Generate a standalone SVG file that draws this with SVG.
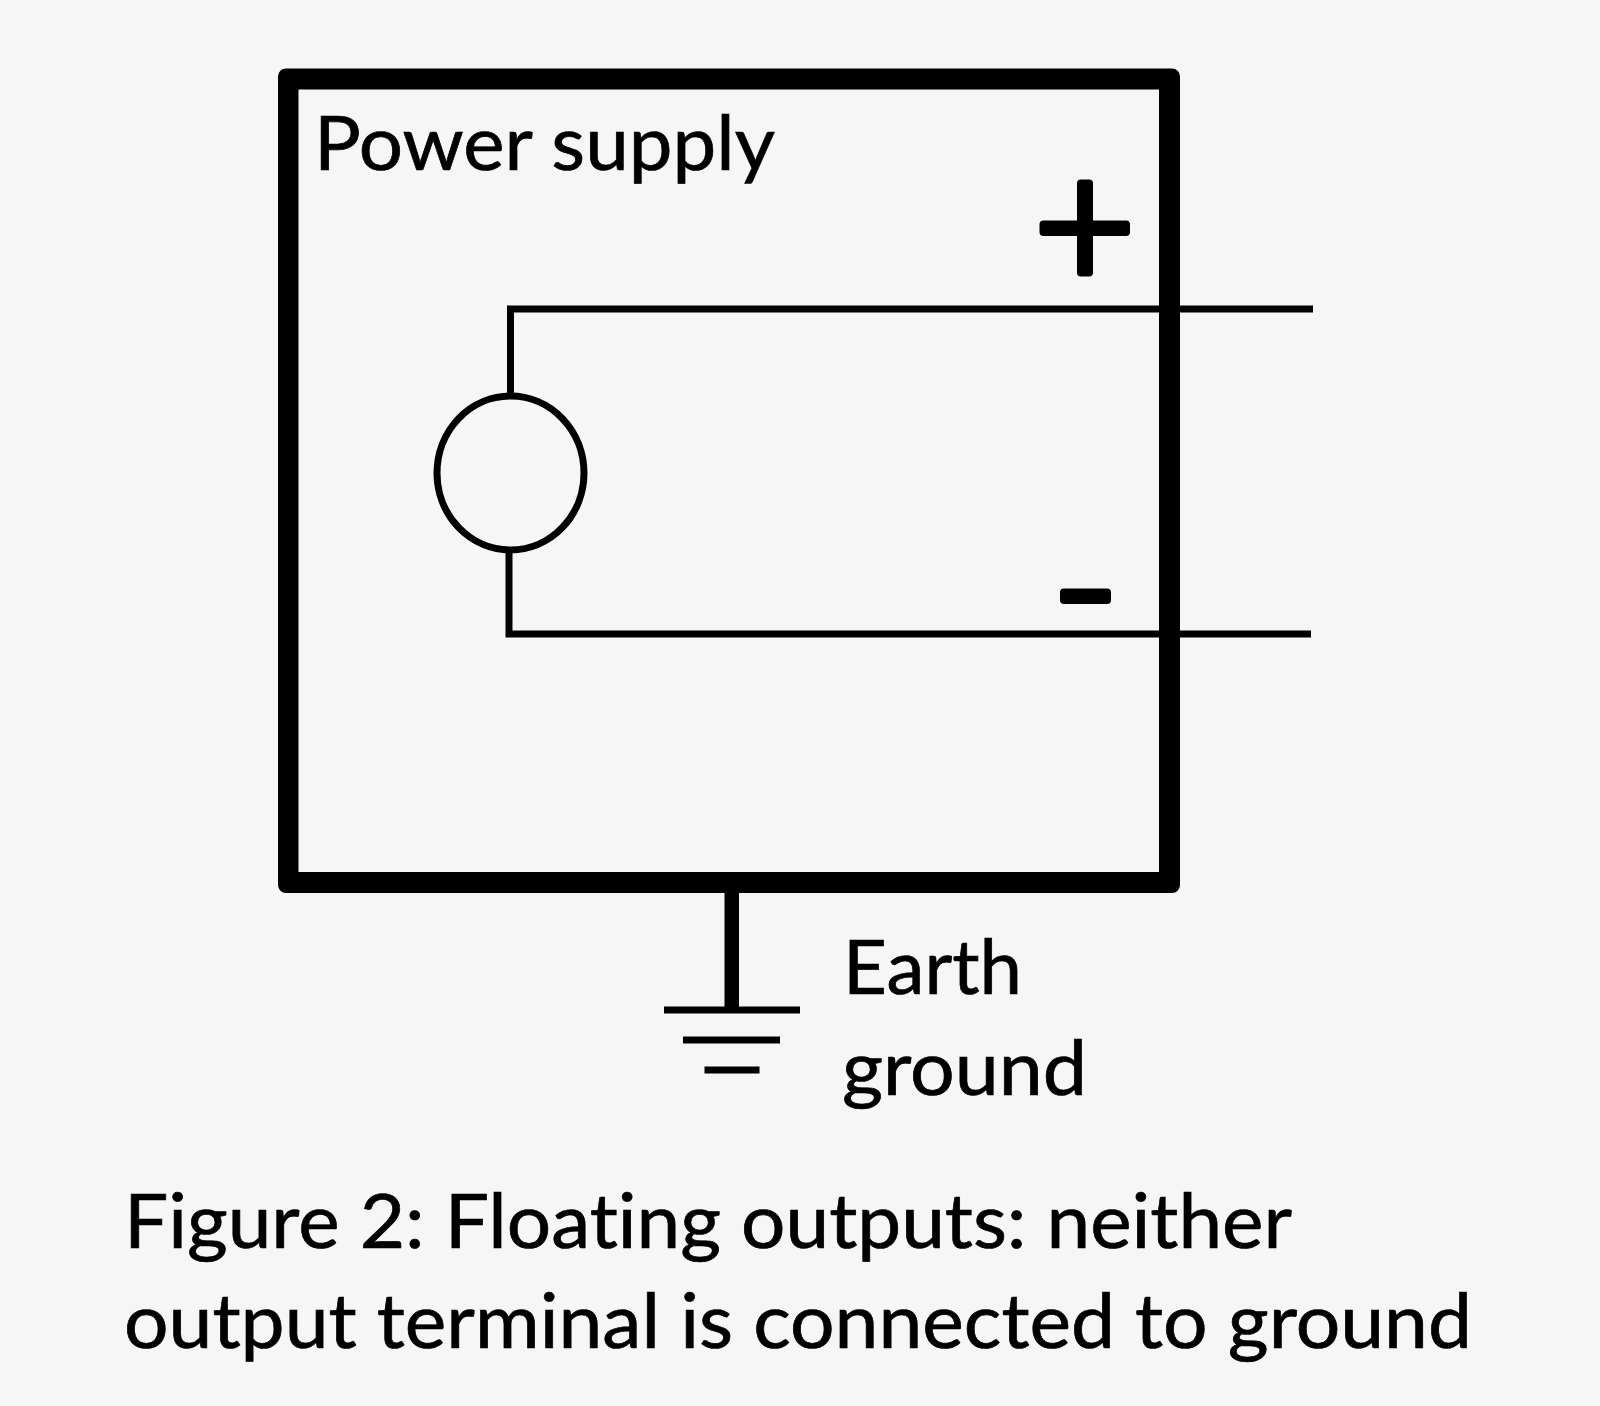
<svg xmlns="http://www.w3.org/2000/svg" width="1600" height="1406" viewBox="0 0 1600 1406">
<style>
text{font-family:"Lato","Carlito","Open Sans",sans-serif;fill:#000;stroke:#000;stroke-width:0.7px;font-variant-ligatures:none}
.lbl{font-size:75px}
.wire{stroke:#000;stroke-width:7;fill:none}
.bar{fill:#000}
</style>
<rect width="1600" height="1406" fill="#f6f6f6"/>
<g id="connectors">
<path class="wire" d="M1313 309H510.500V395"/>
<path class="wire" d="M1311 634H509V549"/>
<rect class="bar" x="724.500" y="890" width="14.500" height="120"/>
</g>
<g id="power-supply">
<path class="bar" fill-rule="evenodd" d="M285 68.500H1172a8 8 0 0 1 8 8V885a8 8 0 0 1 -8 8H286a8 8 0 0 1 -8 -8V76.500a8 8 0 0 1 8 -8ZM298.500 89.500V872H1159V89.500Z"/>
<text class="lbl" x="314" y="169.500" textLength="461" lengthAdjust="spacingAndGlyphs">Power supply</text>
</g>
<g id="source">
<ellipse cx="510.500" cy="473" rx="73.500" ry="77" fill="none" stroke="#000" stroke-width="7"/>
</g>
<g id="plus">
<rect class="bar" x="1077" y="179.500" width="16" height="97" rx="4"/>
<rect class="bar" x="1039.500" y="220.500" width="90.500" height="15.500" rx="4"/>
</g>
<g id="minus">
<rect class="bar" x="1060" y="588.500" width="51" height="15.500" rx="4"/>
</g>
<g id="earth">
<rect class="bar" x="664" y="1006.500" width="136" height="7"/>
<rect class="bar" x="683" y="1036.500" width="97" height="7"/>
<rect class="bar" x="704.500" y="1066.500" width="55" height="7"/>
<text class="lbl" x="843" y="994" textLength="179" lengthAdjust="spacingAndGlyphs">Earth</text>
<text class="lbl" x="842" y="1095" textLength="245" lengthAdjust="spacingAndGlyphs">ground</text>
</g>
<g id="caption">
<text class="lbl" x="124" y="1247.500" textLength="1168" lengthAdjust="spacingAndGlyphs">Figure 2: Floating outputs: neither</text>
<text class="lbl" x="124" y="1348" textLength="1348" lengthAdjust="spacingAndGlyphs">output terminal is connected to ground</text>
</g>
</svg>
